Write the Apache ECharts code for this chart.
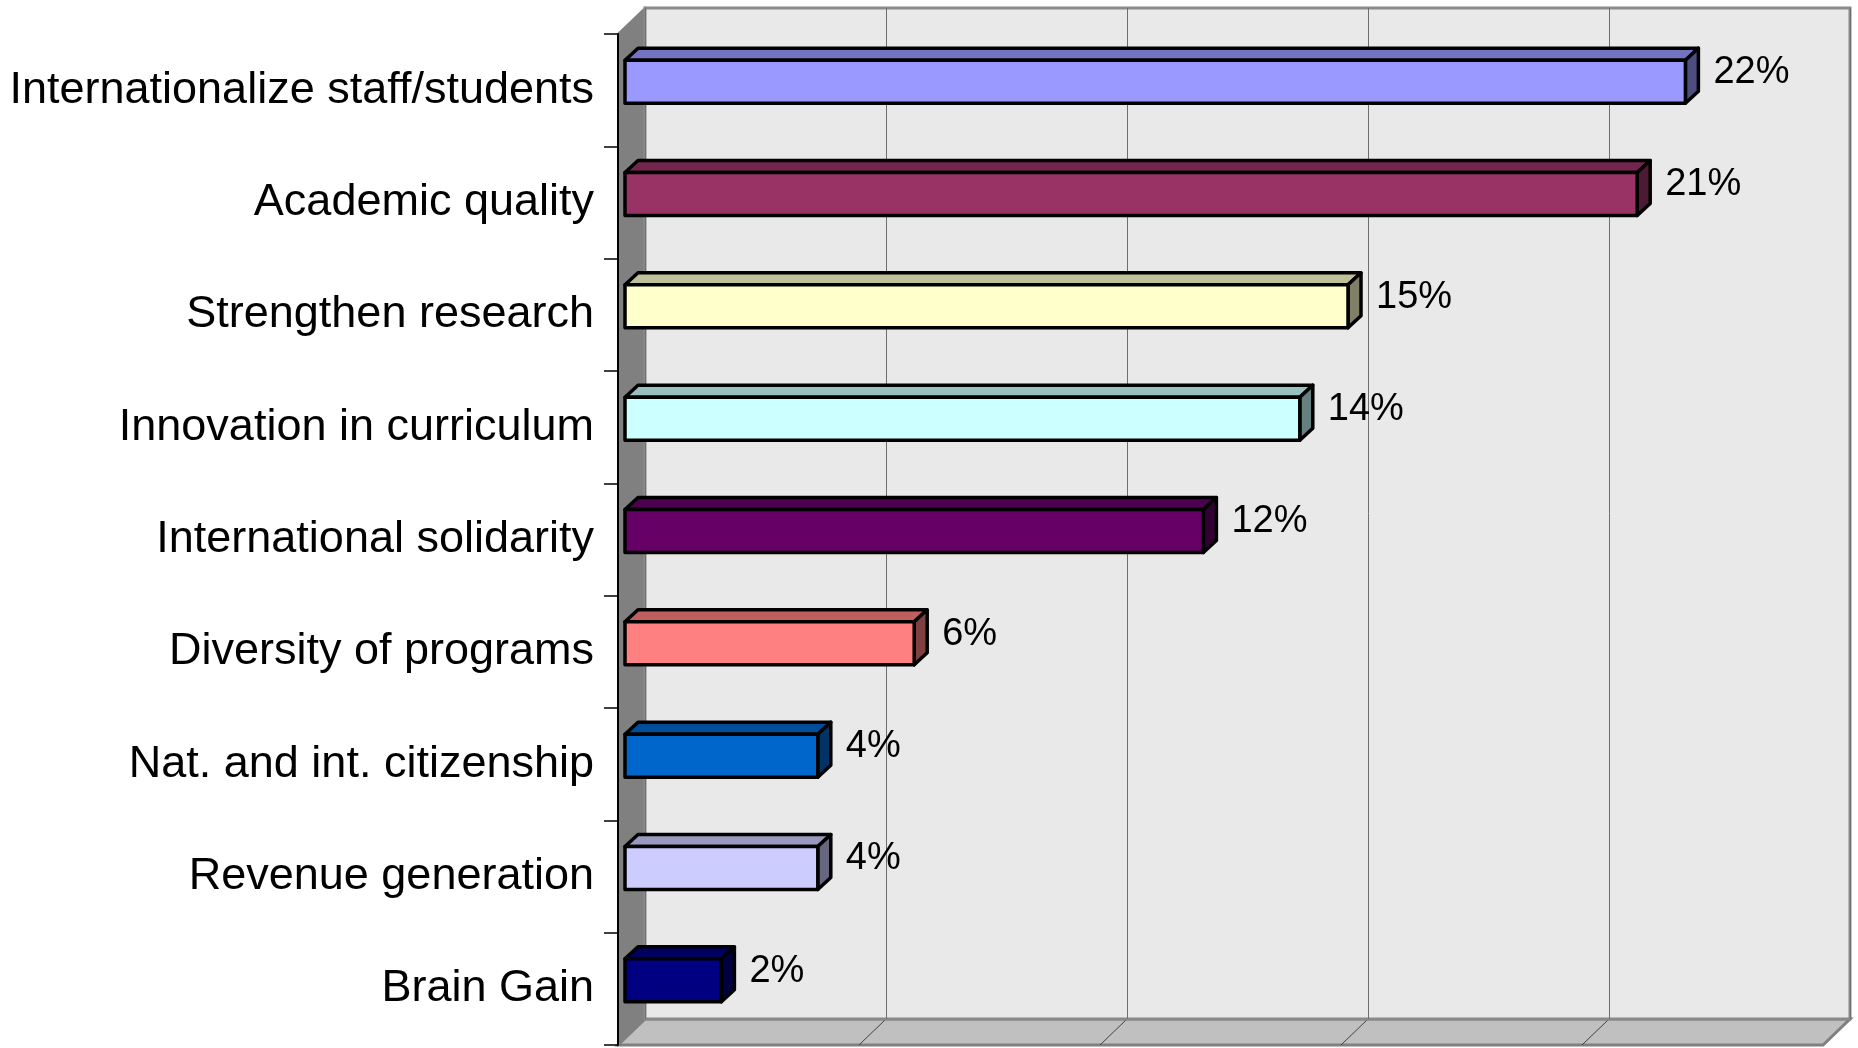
<!DOCTYPE html>
<html><head><meta charset="utf-8">
<script src="https://cdn.jsdelivr.net/npm/echarts@6/dist/echarts.min.js"></script>
<style>html,body{margin:0;padding:0;background:#fff}#c{width:1858px;height:1048px}</style>
</head><body><div id="c"></div>
<script>
const categories = ['Internationalize staff/students','Academic quality','Strengthen research','Innovation in curriculum','International solidarity','Diversity of programs','Nat. and int. citizenship','Revenue generation','Brain Gain'];
const values = [22, 21, 15, 14, 12, 6, 4, 4, 2];
const dataLabels = ['22%','21%','15%','14%','12%','6%','4%','4%','2%'];
const xTicks = [0, 5, 10, 15, 20, 25];
const frontColors = ['#9999FF','#993366','#FFFFCC','#CCFFFF','#660066','#FF8080','#0066CC','#CCCCFF','#000080'];
const topColors   = ['#7373BF','#73264D','#BFBF99','#99BFBF','#4D004D','#BF6060','#004D99','#9999BF','#000060'];
const sideColors  = ['#4D4D80','#4D1A33','#808066','#668080','#330033','#804040','#003366','#666680','#000040'];

const FONT = '"Liberation Sans", Arial, sans-serif';
const DEPTH_X = -27, DEPTH_Y = 26;       // oblique wall depth
const BAR_DX = -20, BAR_DY = 17.5;       // bar front plane offset from back wall
const BAR_H = 43, BAR_DEPTH_X = 13, BAR_DEPTH_Y = -12;

function renderWalls(params, api) {
  const cs = params.coordSys;
  const x0 = cs.x, y0 = cs.y, w = cs.width, yb = cs.y + cs.height;
  const children = [];
  children.push({type:'polygon', shape:{points:[[x0,y0],[x0,yb],[x0+DEPTH_X,yb+DEPTH_Y],[x0+DEPTH_X,y0+DEPTH_Y]]},
    style:{fill:'#808080', stroke:'#808080', lineWidth:2}});
  children.push({type:'polygon', shape:{points:[[x0,yb],[x0+w,yb],[x0+w+DEPTH_X,yb+DEPTH_Y],[x0+DEPTH_X,yb+DEPTH_Y]]},
    style:{fill:'#C0C0C0', stroke:'#808080', lineWidth:3}});
  xTicks.slice(1, -1).forEach(t => {
    const px = api.coord([t, 0])[0];
    children.push({type:'line', shape:{x1:px, y1:yb, x2:px+DEPTH_X, y2:yb+DEPTH_Y}, style:{stroke:'#404040', lineWidth:1}});
  });
  return {type:'group', children};
}

function renderBar(params, api) {
  const v = api.value(0), i = api.value(1);
  const p0 = api.coord([0, i]), p1 = api.coord([v, i]);
  const xl = p0[0] + BAR_DX, xr = p1[0] + BAR_DX;
  const yc = p0[1] + BAR_DY, yt = yc - BAR_H / 2, yb = yc + BAR_H / 2;
  const st = {stroke:'#000', lineWidth:3.5, lineJoin:'round'};
  return {type:'group', children:[
    {type:'polygon', shape:{points:[[xl,yt],[xr,yt],[xr+BAR_DEPTH_X,yt+BAR_DEPTH_Y],[xl+BAR_DEPTH_X,yt+BAR_DEPTH_Y]]},
      style:Object.assign({fill:topColors[i]}, st)},
    {type:'polygon', shape:{points:[[xr,yt],[xr+BAR_DEPTH_X,yt+BAR_DEPTH_Y],[xr+BAR_DEPTH_X,yb+BAR_DEPTH_Y],[xr,yb]]},
      style:Object.assign({fill:sideColors[i]}, st)},
    {type:'rect', shape:{x:xl, y:yt, width:xr-xl, height:BAR_H}, style:Object.assign({fill:frontColors[i]}, st)},
    {type:'text', style:{text:dataLabels[i], x:xr+28, y:yc-9, fill:'#000', font:'38px ' + FONT, align:'left', verticalAlign:'middle'}}
  ]};
}

const chart = echarts.init(document.getElementById('c'), null, {renderer:'canvas'});
chart.setOption({
  animation: false,
  backgroundColor: '#fff',
  grid: [
    {left:645, right:8, top:8, bottom:29, show:true, backgroundColor:'#E9E9E9', borderColor:'#8A8A8A', borderWidth:3},
    {left:618, right:35, top:34, bottom:3}
  ],
  xAxis: [
    {type:'value', gridIndex:0, min:xTicks[0], max:xTicks[xTicks.length-1], interval:5,
     axisLine:{show:false}, axisTick:{show:false}, axisLabel:{show:false},
     splitLine:{show:true, lineStyle:{color:'#6E6E6E', width:1}}},
    {type:'value', gridIndex:1, min:0, max:25, show:false}
  ],
  yAxis: [
    {type:'category', gridIndex:0, data:categories, inverse:true, show:false},
    {type:'category', gridIndex:1, data:categories, inverse:true,
     axisLine:{show:true, lineStyle:{color:'#000', width:2}},
     axisTick:{show:true, length:14, lineStyle:{color:'#000', width:1.5}},
     axisLabel:{fontSize:45, color:'#000', fontFamily:FONT, margin:24},
     splitLine:{show:false}}
  ],
  series: [
    {type:'custom', xAxisIndex:0, yAxisIndex:0, z:-1, silent:true, data:[[0,0]], renderItem:renderWalls, clip:false},
    {type:'custom', xAxisIndex:0, yAxisIndex:0, z:3, silent:true, encode:{x:0, y:1},
     data: values.map((v, i) => [v, i]), renderItem:renderBar, clip:false}
  ]
});
</script>
</body></html>
